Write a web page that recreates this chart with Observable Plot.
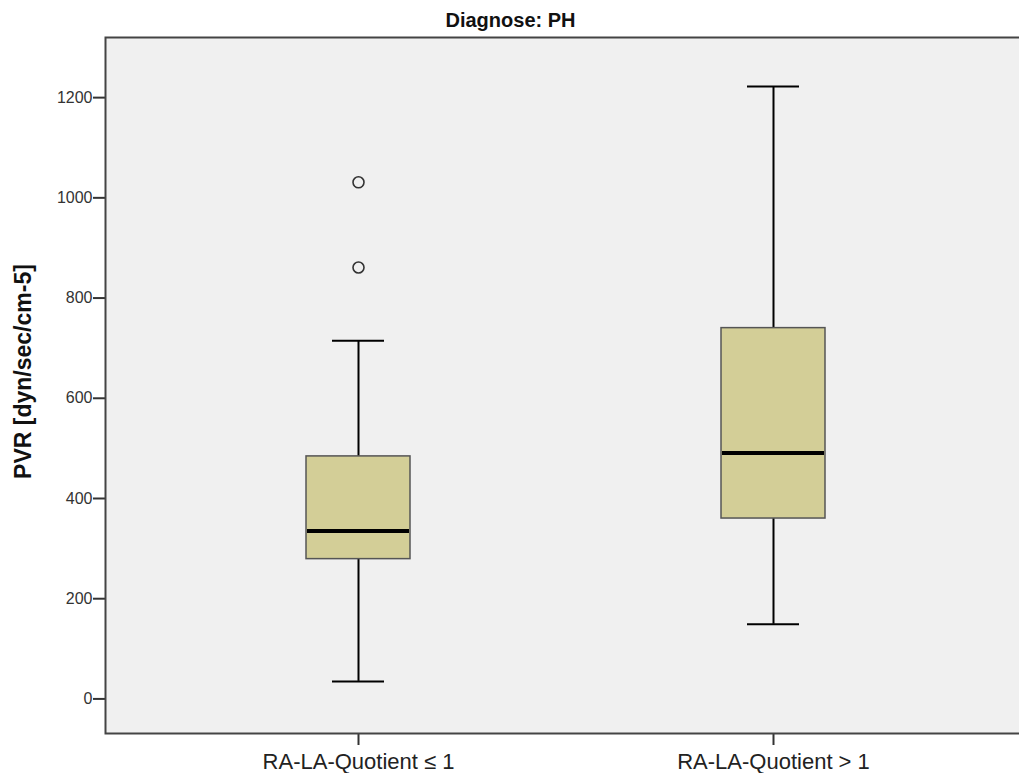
<!DOCTYPE html>
<html>
<head>
<meta charset="utf-8">
<script src="https://cdn.jsdelivr.net/npm/d3@7"></script>
<script src="https://cdn.jsdelivr.net/npm/@observablehq/plot@0.6"></script>
<style>
  html, body { margin: 0; background: #fff; overflow: hidden; }
</style>
</head>
<body>
<div id="chart"></div>
<script>
const title = "Diagnose: PH";
const yLabel = "PVR [dyn/sec/cm-5]";
const categories = ["RA-LA-Quotient ≤ 1", "RA-LA-Quotient > 1"];
const lowerWhisker = [35, 149];
const q1 = [279, 360];
const median = [335, 491];
const q3 = [484, 740];
const upperWhisker = [715, 1222];
const outlierCategory = ["RA-LA-Quotient ≤ 1", "RA-LA-Quotient ≤ 1"];
const outlierValue = [1031, 861];
const yTicks = [0, 200, 400, 600, 800, 1000, 1200];
const yDomain = [-69, 1320];

const boxes = categories.map((c, i) => ({
  cat: c, lo: lowerWhisker[i], q1: q1[i], med: median[i], q3: q3[i], hi: upperWhisker[i]
}));
const outliers = outlierCategory.map((c, i) => ({cat: c, v: outlierValue[i]}));

const font = "'Liberation Sans', Arial, Helvetica, sans-serif";

// The plot area runs past the right edge of the SVG (as in the reference, no right border is visible).
const chart = Plot.plot({
  width: 1019,
  height: 773,
  marginTop: 37,
  marginBottom: 40,
  marginLeft: 105,
  marginRight: -4,
  style: {fontFamily: font, background: "#ffffff"},
  x: {type: "band", domain: categories, paddingInner: 0.749, paddingOuter: 0.4805, align: 0.504, label: null},
  y: {domain: yDomain, label: null},
  marks: [
    Plot.frame({fill: "#f0f0f0", stroke: null, insetRight: -40}),
    Plot.axisY({ticks: yTicks, tickFormat: d => String(d), tickSize: 12, tickPadding: 1, fontSize: 16, color: "#333", stroke: "#333", strokeWidth: 2, label: null}),
    Plot.axisX({tickSize: 12, tickPadding: 8, fontSize: 22, color: "#222", stroke: "#333", strokeWidth: 2, label: null}),
    Plot.ruleX(boxes, {x: "cat", y1: "lo", y2: "q1", stroke: "#000", strokeWidth: 2}),
    Plot.ruleX(boxes, {x: "cat", y1: "q3", y2: "hi", stroke: "#000", strokeWidth: 2}),
    Plot.tickY(boxes, {x: "cat", y: "lo", stroke: "#000", strokeWidth: 2, insetLeft: 26, insetRight: 26}),
    Plot.tickY(boxes, {x: "cat", y: "hi", stroke: "#000", strokeWidth: 2, insetLeft: 26, insetRight: 26}),
    Plot.barY(boxes, {x: "cat", y1: "q1", y2: "q3", fill: "#d3ce97", stroke: "#555", strokeWidth: 1.5}),
    Plot.tickY(boxes, {x: "cat", y: "med", stroke: "#000", strokeWidth: 4, insetLeft: 1, insetRight: 1}),
    Plot.dot(outliers, {x: "cat", y: "v", r: 5.5, stroke: "#333", strokeWidth: 1.6, fill: "none"}),
    Plot.frame({stroke: "#444", strokeWidth: 2, insetRight: -40}),
    Plot.text([title], {frameAnchor: "top", lineAnchor: "middle", textAnchor: "middle", dx: -54, dy: -17, fontSize: 20, fontWeight: "bold", fill: "#111", fontFamily: font}),
    Plot.text([yLabel], {frameAnchor: "left", rotate: -90, textAnchor: "middle", lineAnchor: "middle", dx: -82, dy: -14, fontSize: 23, fontWeight: "bold", fill: "#111", fontFamily: font})
  ]
});
document.getElementById("chart").appendChild(chart);
</script>
</body>
</html>
